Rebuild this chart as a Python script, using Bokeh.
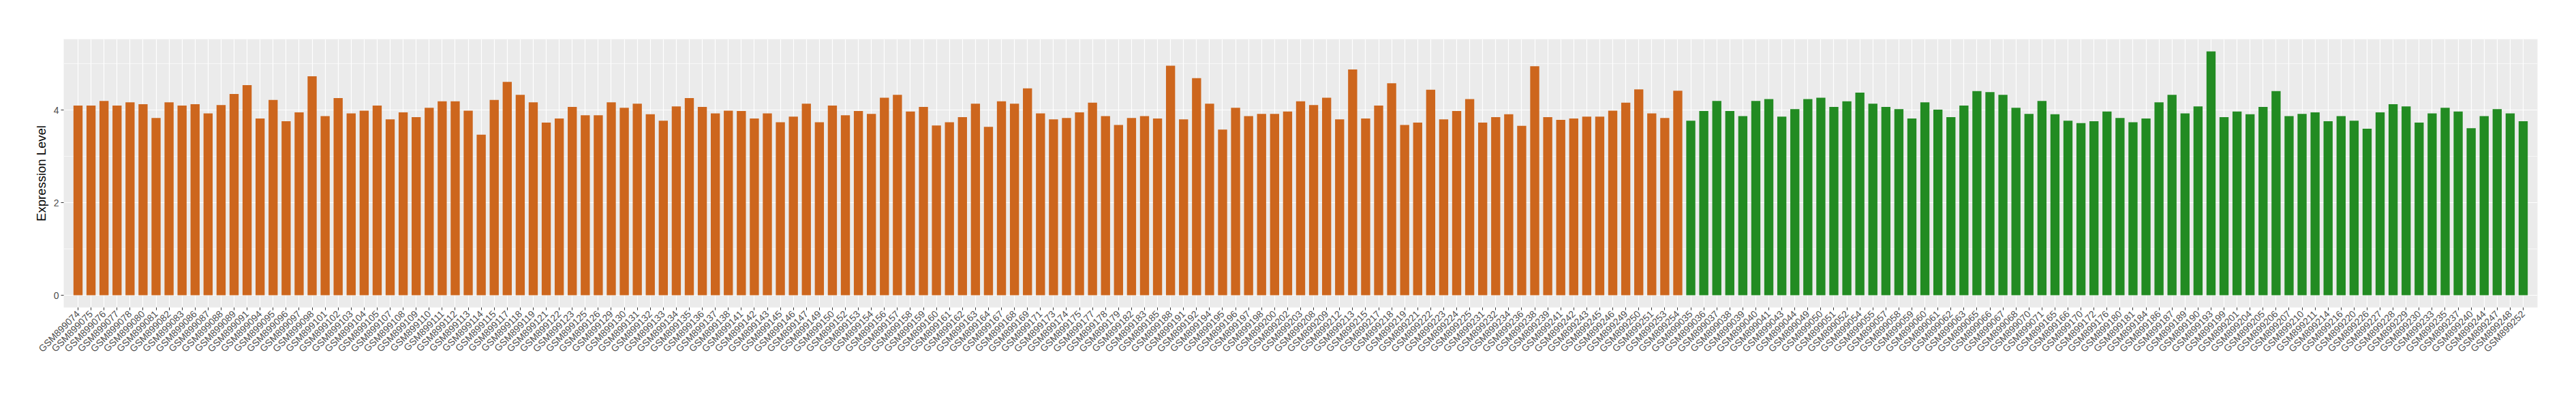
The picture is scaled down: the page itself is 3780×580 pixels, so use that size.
import math
from bokeh.plotting import figure
from bokeh.models import FactorRange, Range1d, FixedTicker, ColumnDataSource
from bokeh.embed import file_html
from bokeh.resources import INLINE

orange_samples = ["GSM899074","GSM899075","GSM899076","GSM899077","GSM899078","GSM899080","GSM899081","GSM899082","GSM899083","GSM899086",
 "GSM899087","GSM899088","GSM899089","GSM899091","GSM899094","GSM899095","GSM899096","GSM899097","GSM899098","GSM899101",
 "GSM899102","GSM899103","GSM899104","GSM899105","GSM899107","GSM899108","GSM899109","GSM899110","GSM899111","GSM899112",
 "GSM899113","GSM899114","GSM899115","GSM899117","GSM899118","GSM899119","GSM899121","GSM899122","GSM899123","GSM899125",
 "GSM899126","GSM899129","GSM899130","GSM899131","GSM899132","GSM899133","GSM899134","GSM899135","GSM899136","GSM899137",
 "GSM899138","GSM899141","GSM899142","GSM899143","GSM899145","GSM899146","GSM899147","GSM899149","GSM899150","GSM899152",
 "GSM899153","GSM899154","GSM899156","GSM899157","GSM899158","GSM899159","GSM899160","GSM899161","GSM899162","GSM899163",
 "GSM899164","GSM899167","GSM899168","GSM899169","GSM899171","GSM899173","GSM899174","GSM899175","GSM899177","GSM899178",
 "GSM899179","GSM899182","GSM899183","GSM899185","GSM899188","GSM899191","GSM899192","GSM899194","GSM899195","GSM899196",
 "GSM899197","GSM899198","GSM899200","GSM899202","GSM899203","GSM899208","GSM899209","GSM899212","GSM899213","GSM899215",
 "GSM899217","GSM899218","GSM899219","GSM899221","GSM899222","GSM899223","GSM899224","GSM899225","GSM899231","GSM899232",
 "GSM899234","GSM899236","GSM899238","GSM899239","GSM899241","GSM899242","GSM899243","GSM899245","GSM899246","GSM899249",
 "GSM899250","GSM899251","GSM899253","GSM899254"]
orange_values = [4.10,4.10,4.20,4.10,4.17,4.13,3.83,4.17,4.10,4.13,
 3.93,4.11,4.35,4.54,3.82,4.22,3.76,3.95,4.73,3.87,
 4.26,3.93,3.99,4.10,3.80,3.95,3.85,4.05,4.19,4.19,
 3.99,3.47,4.22,4.61,4.33,4.17,3.73,3.82,4.07,3.89,
 3.89,4.17,4.05,4.14,3.91,3.77,4.08,4.26,4.07,3.93,
 3.99,3.98,3.82,3.93,3.74,3.86,4.14,3.74,4.10,3.89,
 3.98,3.92,4.27,4.33,3.97,4.07,3.67,3.74,3.85,4.14,
 3.64,4.19,4.14,4.47,3.93,3.80,3.83,3.95,4.16,3.87,
 3.68,3.83,3.87,3.82,4.96,3.80,4.69,4.14,3.58,4.05,
 3.87,3.92,3.92,3.97,4.19,4.11,4.27,3.80,4.88,3.82,
 4.10,4.58,3.68,3.73,4.44,3.80,3.98,4.24,3.73,3.85,
 3.91,3.66,4.95,3.85,3.79,3.82,3.86,3.86,3.99,4.16,
 4.45,3.93,3.83,4.42]

green_samples = ["GSM899035","GSM899036","GSM899037","GSM899038","GSM899039","GSM899040","GSM899041","GSM899043","GSM899044","GSM899049",
 "GSM899050","GSM899051","GSM899052","GSM899054","GSM899055","GSM899057","GSM899058","GSM899059","GSM899060","GSM899061",
 "GSM899062","GSM899063","GSM899065","GSM899066","GSM899067","GSM899068","GSM899070","GSM899071","GSM899165","GSM899166",
 "GSM899170","GSM899172","GSM899176","GSM899180","GSM899181","GSM899184","GSM899186","GSM899187","GSM899189","GSM899190",
 "GSM899193","GSM899199","GSM899201","GSM899204","GSM899205","GSM899206","GSM899207","GSM899210","GSM899211","GSM899214",
 "GSM899216","GSM899220","GSM899226","GSM899227","GSM899228","GSM899229","GSM899230","GSM899233","GSM899235","GSM899237",
 "GSM899240","GSM899244","GSM899247","GSM899248","GSM899252"]
green_values = [3.77,3.98,4.20,3.98,3.87,4.20,4.24,3.86,4.02,4.24,
 4.27,4.07,4.19,4.38,4.14,4.07,4.02,3.82,4.17,4.01,
 3.85,4.10,4.41,4.39,4.33,4.05,3.92,4.20,3.91,3.77,
 3.72,3.76,3.97,3.83,3.74,3.82,4.17,4.33,3.93,4.08,
 5.27,3.85,3.97,3.91,4.07,4.41,3.87,3.92,3.95,3.76,
 3.87,3.77,3.60,3.95,4.13,4.08,3.73,3.93,4.05,3.97,
 3.61,3.87,4.02,3.93,3.76]

orange_color = "#CD661D"
green_color = "#228B22"

samples = orange_samples + green_samples
values = orange_values + green_values
colors = [orange_color] * len(orange_samples) + [green_color] * len(green_samples)

src = ColumnDataSource(dict(x=samples, top=values, color=colors))

ymax = max(values)
pad = 0.05 * ymax

p = figure(width=3780, height=580, output_backend="svg", toolbar_location=None,
           x_range=FactorRange(factors=samples, range_padding=0.6, range_padding_units="absolute"),
           y_range=Range1d(-pad, ymax + pad),
           min_border_left=93, min_border_right=57, min_border_top=57, min_border_bottom=129)

p.vbar(x="x", top="top", bottom=0, width=0.7, color="color", source=src, line_color=None)

p.background_fill_color = "#EBEBEB"
p.border_fill_color = "white"
p.outline_line_color = None

p.yaxis.ticker = FixedTicker(ticks=[0, 2, 4], minor_ticks=[1, 3, 5])
p.ygrid.grid_line_color = "white"
p.ygrid.grid_line_width = 1.2
p.ygrid.minor_grid_line_color = "white"
p.ygrid.minor_grid_line_width = 0.6
p.xgrid.grid_line_color = "white"
p.xgrid.grid_line_width = 1.2

for ax in (p.xaxis, p.yaxis):
    ax.axis_line_color = None
    ax.major_tick_line_color = "#333333"
    ax.major_tick_out = 4
    ax.major_tick_in = 0
    ax.minor_tick_line_color = None
    ax.major_label_text_font = "Liberation Sans"
    ax.major_label_text_font_size = "14px"
    ax.major_label_text_color = "#4D4D4D"

p.xaxis.major_label_orientation = math.pi / 4
p.xaxis.major_label_standoff = 3
p.yaxis.major_label_standoff = 3

p.yaxis.axis_label = "Expression Level"
p.yaxis.axis_label_text_font = "Liberation Sans"
p.yaxis.axis_label_text_font_size = "18.5px"
p.yaxis.axis_label_text_font_style = "normal"
p.yaxis.axis_label_text_color = "black"
p.yaxis.axis_label_standoff = 5

open("out.html", "w").write(file_html(p, INLINE))
